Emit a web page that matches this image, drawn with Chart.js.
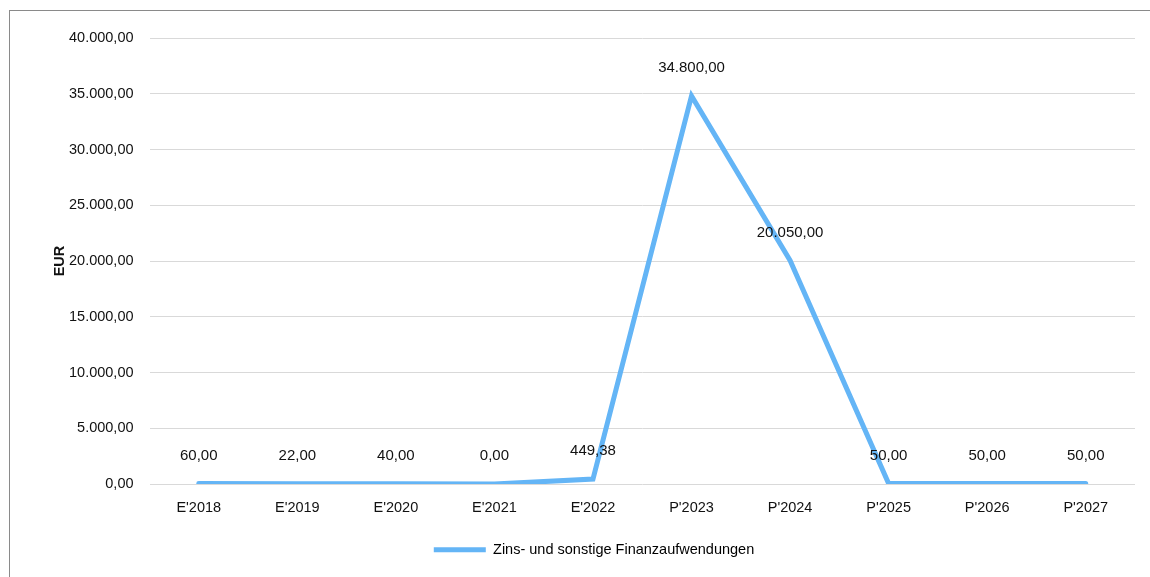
<!DOCTYPE html>
<html><head><meta charset="utf-8">
<script src="https://cdn.jsdelivr.net/npm/chart.js@4"></script>
<style>
html,body{margin:0;padding:0;background:#fff;overflow:hidden;}
#wrap{position:relative;width:1150px;height:577px;}
#frame{position:absolute;left:9px;top:10px;width:1200px;height:600px;border:1px solid #8a8a8a;}
canvas{position:absolute;left:0;top:0;}
</style></head>
<body><div id="wrap"><div id="frame"></div><canvas id="c" width="1150" height="577"></canvas></div>
<script>
const categories = ["E'2018","E'2019","E'2020","E'2021","E'2022","P'2023","P'2024","P'2025","P'2026","P'2027"];
const values = [60, 22, 40, 0, 449.38, 34800, 20050, 50, 50, 50];
const seriesName = "Zins- und sonstige Finanzaufwendungen";
const yTitle = "EUR";
const yTicks = [0,5000,10000,15000,20000,25000,30000,35000,40000];

function fmt(v){
  const neg = v < 0; v = Math.abs(v);
  let [i,d] = v.toFixed(2).split('.');
  i = i.replace(/\B(?=(\d{3})+(?!\d))/g,'.');
  return (neg?'-':'') + i + ',' + d;
}
const FONT = "'Liberation Sans', Arial, sans-serif";
const blue = '#64B5F6';

const labelPlugin = {
  id:'valLabels',
  afterDatasetsDraw(chart){
    const ctx = chart.ctx;
    const meta = chart.getDatasetMeta(0);
    ctx.save();
    ctx.font = '15px ' + FONT;
    ctx.fillStyle = '#111';
    ctx.textAlign = 'center';
    ctx.textBaseline = 'middle';
    meta.data.forEach((pt,i)=>{
      ctx.fillText(fmt(values[i]), pt.x, pt.y - 28);
    });
    const ca = chart.chartArea;
    ctx.font = 'bold 14.5px ' + FONT;
    ctx.translate(60, (ca.top + ca.bottom)/2);
    ctx.rotate(-Math.PI/2);
    ctx.fillText(yTitle, 0, 0);
    ctx.restore();
  }
};

new Chart(document.getElementById('c'),{
  type:'line',
  data:{labels:categories,datasets:[{label:seriesName,data:values,borderColor:blue,backgroundColor:blue,borderWidth:5,pointRadius:0,borderCapStyle:'round',borderJoinStyle:'miter',tension:0}]},
  options:{
    responsive:false,animation:false,
    layout:{padding:{left:53,right:15,top:38,bottom:10}},
    plugins:{
      legend:{position:'bottom',labels:{font:{family:FONT,size:14.5},color:'#111',boxWidth:52,boxHeight:5,padding:11,
        generateLabels(chart){return [{text:seriesName,fillStyle:blue,strokeStyle:blue,lineWidth:0,datasetIndex:0}];}}},
      tooltip:{enabled:false}
    },
    scales:{
      x:{offset:true,grid:{display:false,drawTicks:false},border:{display:false},
         ticks:{font:{family:FONT,size:14.5},color:'#111',padding:15,maxRotation:0,autoSkip:false}},
      y:{min:0,max:40000,afterBuildTicks(ax){ax.ticks=yTicks.map(v=>({value:v}));},
         grid:{color:'#d9d9d9',lineWidth:1,drawTicks:false},border:{display:false},
         ticks:{font:{family:FONT,size:14.5},color:'#111',padding:16,callback:v=>fmt(v)},
         title:{display:false}}
    }
  },
  plugins:[labelPlugin]
});
</script></body></html>
